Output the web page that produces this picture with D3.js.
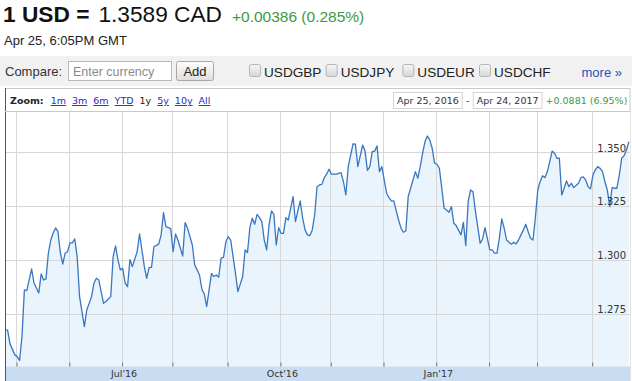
<!DOCTYPE html>
<html><head><meta charset="utf-8">
<script src="https://cdn.jsdelivr.net/npm/d3@7"></script>
<style>body{margin:0;background:#fff;overflow:hidden}svg{display:block}</style>
</head><body>
<svg id="c" width="632" height="381"></svg>
<script>
// ---------- data ----------
const dates = ["2016-04-25","2016-04-26","2016-04-27","2016-04-29","2016-05-02","2016-05-03","2016-05-04","2016-05-05","2016-05-06","2016-05-10","2016-05-11","2016-05-13","2016-05-16","2016-05-17","2016-05-18","2016-05-19","2016-05-20","2016-05-23","2016-05-24","2016-05-25","2016-05-26","2016-05-27","2016-05-30","2016-05-31","2016-06-01","2016-06-02","2016-06-03","2016-06-06","2016-06-07","2016-06-08","2016-06-09","2016-06-10","2016-06-14","2016-06-15","2016-06-16","2016-06-17","2016-06-21","2016-06-22","2016-06-24","2016-06-27","2016-06-28","2016-06-29","2016-06-30","2016-07-01","2016-07-04","2016-07-05","2016-07-06","2016-07-07","2016-07-11","2016-07-12","2016-07-13","2016-07-14","2016-07-15","2016-07-18","2016-07-19","2016-07-20","2016-07-22","2016-07-25","2016-07-26","2016-07-27","2016-07-29","2016-08-01","2016-08-02","2016-08-03","2016-08-05","2016-08-08","2016-08-09","2016-08-11","2016-08-12","2016-08-16","2016-08-17","2016-08-18","2016-08-19","2016-08-22","2016-08-23","2016-08-24","2016-08-25","2016-08-26","2016-08-29","2016-08-30","2016-08-31","2016-09-01","2016-09-02","2016-09-05","2016-09-06","2016-09-07","2016-09-09","2016-09-12","2016-09-13","2016-09-14","2016-09-15","2016-09-16","2016-09-19","2016-09-20","2016-09-21","2016-09-22","2016-09-23","2016-09-26","2016-09-27","2016-09-28","2016-09-29","2016-09-30","2016-10-03","2016-10-04","2016-10-05","2016-10-06","2016-10-07","2016-10-10","2016-10-11","2016-10-12","2016-10-13","2016-10-14","2016-10-17","2016-10-18","2016-10-19","2016-10-20","2016-10-21","2016-10-24","2016-10-25","2016-10-26","2016-10-27","2016-10-28","2016-10-31","2016-11-01","2016-11-02","2016-11-03","2016-11-07","2016-11-08","2016-11-09","2016-11-10","2016-11-14","2016-11-15","2016-11-16","2016-11-18","2016-11-21","2016-11-22","2016-11-23","2016-11-24","2016-11-25","2016-11-28","2016-11-29","2016-11-30","2016-12-02","2016-12-05","2016-12-06","2016-12-07","2016-12-08","2016-12-09","2016-12-12","2016-12-13","2016-12-14","2016-12-15","2016-12-16","2016-12-20","2016-12-21","2016-12-22","2016-12-23","2016-12-26","2016-12-27","2016-12-28","2016-12-29","2016-12-30","2017-01-02","2017-01-03","2017-01-05","2017-01-06","2017-01-09","2017-01-10","2017-01-11","2017-01-12","2017-01-16","2017-01-17","2017-01-18","2017-01-19","2017-01-20","2017-01-23","2017-01-24","2017-01-26","2017-01-27","2017-01-30","2017-01-31","2017-02-01","2017-02-02","2017-02-03","2017-02-06","2017-02-07","2017-02-08","2017-02-09","2017-02-10","2017-02-13","2017-02-14","2017-02-15","2017-02-16","2017-02-17","2017-02-20","2017-02-21","2017-02-22","2017-02-23","2017-02-24","2017-02-27","2017-02-28","2017-03-01","2017-03-02","2017-03-03","2017-03-06","2017-03-07","2017-03-08","2017-03-09","2017-03-10","2017-03-13","2017-03-14","2017-03-15","2017-03-16","2017-03-17","2017-03-20","2017-03-21","2017-03-22","2017-03-24","2017-03-27","2017-03-28","2017-03-29","2017-03-30","2017-03-31","2017-04-03","2017-04-04","2017-04-05","2017-04-06","2017-04-07","2017-04-10","2017-04-11","2017-04-12","2017-04-13","2017-04-14","2017-04-17","2017-04-18","2017-04-19","2017-04-20","2017-04-21","2017-04-24"];
const rates = [1.2678,1.2677,1.2613,1.2562,1.2554,1.2536,1.2647,1.2863,1.2860,1.2960,1.2895,1.2849,1.2937,1.2909,1.2914,1.3034,1.3094,1.3127,1.3150,1.3133,1.3034,1.2983,1.3034,1.3040,1.3081,1.3081,1.3099,1.3017,1.2832,1.2762,1.2693,1.2770,1.2832,1.2894,1.2917,1.2909,1.2801,1.2809,1.2832,1.3017,1.3067,1.3002,1.2956,1.2963,1.2894,1.2878,1.3003,1.2971,1.3040,1.3122,1.3048,1.2971,1.2917,1.2966,1.2968,1.3063,1.3075,1.3118,1.3221,1.3156,1.3147,1.3040,1.3122,1.3094,1.3020,1.3175,1.3149,1.3071,1.2979,1.2932,1.2866,1.2844,1.2786,1.2863,1.2940,1.2925,1.2932,1.2922,1.3010,1.3014,1.3087,1.3110,1.3094,1.3017,1.2940,1.2855,1.2925,1.3048,1.3036,1.3153,1.3195,1.3167,1.3213,1.3198,1.3179,1.3094,1.3048,1.3164,1.3229,1.3213,1.3071,1.3151,1.3125,1.3125,1.3198,1.3187,1.3241,1.3295,1.3179,1.3229,1.3275,1.3195,1.3141,1.3118,1.3114,1.3141,1.3210,1.3341,1.3349,1.3352,1.3383,1.3399,1.3422,1.3399,1.3399,1.3399,1.3406,1.3364,1.3303,1.3434,1.3540,1.3538,1.3434,1.3534,1.3506,1.3417,1.3434,1.3503,1.3506,1.3530,1.3411,1.3434,1.3311,1.3290,1.3275,1.3275,1.3229,1.3187,1.3149,1.3130,1.3136,1.3295,1.3334,1.3411,1.3380,1.3434,1.3496,1.3550,1.3576,1.3557,1.3519,1.3450,1.3445,1.3426,1.3241,1.3233,1.3223,1.3249,1.3172,1.3161,1.3118,1.3176,1.3068,1.3272,1.3326,1.3318,1.3229,1.3079,1.3099,1.3151,1.3102,1.3048,1.3048,1.3033,1.3033,1.3102,1.3192,1.3149,1.3094,1.3084,1.3075,1.3084,1.3076,1.3094,1.3118,1.3141,1.3167,1.3133,1.3102,1.3094,1.3195,1.3326,1.3364,1.3392,1.3383,1.3411,1.3457,1.3506,1.3496,1.3473,1.3473,1.3303,1.3334,1.3368,1.3341,1.3357,1.3337,1.3357,1.3383,1.3387,1.3372,1.3341,1.3331,1.3395,1.3419,1.3434,1.3426,1.3411,1.3364,1.3326,1.3249,1.3337,1.3334,1.3334,1.3395,1.3473,1.3485,1.3511,1.3550];
const yTicks = [1.275, 1.300, 1.325, 1.350];
const xLabelMonths = ["2016-07-01","2016-10-01","2017-01-01"];
const rangeStart = "2016-04-25", rangeEnd = "2017-04-24";
const zoomLinks = ["1m","3m","6m","YTD","1y","5y","10y","All"];
const activeZoom = "1y";
const compareSymbols = ["USDGBP","USDJPY","USDEUR","USDCHF"];
const headline = {pair:"1 USD =", rate:"1.3589 CAD", change:"+0.00386 (0.285%)", time:"Apr 25, 6:05PM GMT"};
const rangeLabels = {from:"Apr 25, 2016", to:"Apr 24, 2017", change:"+0.0881 (6.95%)"};

// ---------- setup ----------
const svg = d3.select("#c");
const parse = d3.timeParse("%Y-%m-%d");
const start = parse(rangeStart), end = parse(rangeEnd);
const isWeekday = d => d.getDay() !== 0 && d.getDay() !== 6;
const tIndex = d => d3.timeDay.range(start, d).filter(isWeekday).length;
const data = dates.map((s, i) => ({i: tIndex(parse(s)), v: rates[i]}));
const lastIdx = tIndex(end);

const GREEN = "#3d9a45";
const sans = "'Liberation Sans', Arial, sans-serif";
const verd = "'DejaVu Sans', Verdana, sans-serif";

// ---------- header ----------
const h = svg.append("text").attr("x", 3).attr("y", 22).attr("font-family", sans).attr("fill", "#111");
h.append("tspan").attr("font-weight", "bold").attr("font-size", 22.7).text(headline.pair);
h.append("tspan").attr("font-size", 22.7).attr("dx", 9).text(headline.rate);
h.append("tspan").attr("font-size", 15.5).attr("fill", GREEN).attr("dx", 10).text(headline.change);
svg.append("text").attr("x", 4).attr("y", 45).attr("font-family", sans).attr("font-size", 13)
  .attr("fill", "#222").text(headline.time);

// ---------- compare bar ----------
const defs = svg.append("defs");
const g1 = defs.append("linearGradient").attr("id", "btn").attr("x1", 0).attr("y1", 0).attr("x2", 0).attr("y2", 1);
g1.append("stop").attr("offset", 0).attr("stop-color", "#fdfdfd");
g1.append("stop").attr("offset", 1).attr("stop-color", "#dedede");
const g2 = defs.append("linearGradient").attr("id", "chk").attr("x1", 0).attr("y1", 0).attr("x2", 0).attr("y2", 1);
g2.append("stop").attr("offset", 0).attr("stop-color", "#f6f6f6");
g2.append("stop").attr("offset", 1).attr("stop-color", "#d6d6d6");

svg.append("rect").attr("x", 0).attr("y", 56).attr("width", 632).attr("height", 30).attr("fill", "#f1f1f1");
svg.append("text").attr("x", 5).attr("y", 76).attr("font-family", sans).attr("font-size", 13)
  .attr("fill", "#333").text("Compare:");
svg.append("rect").attr("x", 68.5).attr("y", 61.5).attr("width", 103).attr("height", 19)
  .attr("fill", "#fff").attr("stroke", "#b9b9b9");
svg.append("text").attr("x", 73).attr("y", 76).attr("font-family", sans).attr("font-size", 12.5)
  .attr("fill", "#8a8a8a").text("Enter currency");
svg.append("rect").attr("x", 176.5).attr("y", 61.5).attr("width", 37).attr("height", 19).attr("rx", 2)
  .attr("fill", "url(#btn)").attr("stroke", "#a8a8a8");
svg.append("text").attr("x", 195).attr("y", 76).attr("text-anchor", "middle").attr("font-family", sans)
  .attr("font-size", 13).attr("fill", "#222").text("Add");
const chkX = d3.scalePoint().domain(compareSymbols).range([249, 479]);
const cg = svg.selectAll("g.cmp").data(compareSymbols).join("g").attr("class", "cmp")
  .attr("transform", d => `translate(${chkX(d)},0)`);
cg.append("rect").attr("x", 0.5).attr("y", 64.5).attr("width", 11).attr("height", 12).attr("rx", 2)
  .attr("fill", "url(#chk)").attr("stroke", "#b5b5b5");
cg.append("text").attr("x", 15).attr("y", 76.5).attr("font-family", sans).attr("font-size", 13.6)
  .attr("fill", "#222").text(d => d);
svg.append("text").attr("x", 622).attr("y", 77).attr("text-anchor", "end").attr("font-family", sans)
  .attr("font-size", 13).attr("fill", "#2356c0").text("more \u00bb");

// ---------- chart frame ----------
const L = 5, R = 630, T = 111.5, B = 366.5, BAND = 381;
svg.append("rect").attr("x", L + 0.5).attr("y", 88.5).attr("width", R - L - 0.5).attr("height", BAND - 88)
  .attr("fill", "#fff").attr("stroke", "#c8c8c8");

// zoom bar
const zt = svg.append("text").attr("x", 10).attr("y", 104).attr("font-family", verd).attr("font-size", 9.5);
zt.append("tspan").attr("font-weight", "bold").attr("fill", "#222").text("Zoom:");
zoomLinks.forEach(z => {
  zt.append("tspan").attr("dx", z === zoomLinks[0] ? 7 : 6)
    .attr("fill", z === activeZoom ? "#222" : "#2b2bc8")
    .attr("text-decoration", z === activeZoom ? "none" : "underline").text(z);
});
// range boxes
function rangeBox(x, label) {
  const r = svg.append("rect").attr("x", x + 0.5).attr("y", 92.5).attr("height", 16)
    .attr("fill", "#fff").attr("stroke", "#d4d4d4");
  const t = svg.append("text").attr("x", x + 4).attr("y", 104).attr("font-family", verd)
    .attr("font-size", 9.5).attr("fill", "#333").text(label);
  const w = t.node().getComputedTextLength();
  r.attr("width", w + 7);
  return x + w + 8;
}
const e1 = rangeBox(393, rangeLabels.from);
svg.append("text").attr("x", e1 + 5).attr("y", 104).attr("text-anchor", "middle").attr("font-family", verd)
  .attr("font-size", 9.5).attr("fill", "#333").text("-");
const e2 = rangeBox(e1 + 10, rangeLabels.to);
svg.append("text").attr("x", e2 + 3).attr("y", 104).attr("font-family", verd).attr("font-size", 9.5)
  .attr("fill", GREEN).text(rangeLabels.change);

// ---------- scales ----------
const x = d3.scaleLinear().domain([0, lastIdx]).range([5.2, 628.9]);
const y = d3.scaleLinear().domain([1.275, 1.350]).range([314.3, 152.4]);

const months = d3.timeMonth.range(d3.timeMonth.ceil(d3.timeDay.offset(start, 1)), end);
const gridIdx = months.map(m => tIndex(m) - 0.5);

// plot background
svg.append("rect").attr("x", L + 1).attr("y", T).attr("width", R - L - 1).attr("height", B - T).attr("fill", "#fff");
// area
svg.append("path").datum(data)
  .attr("d", d3.area().x(d => x(d.i)).y0(B).y1(d => y(d.v)))
  .attr("fill", "#e9f4fd");
// grid
svg.append("g").selectAll("line").data(yTicks).join("line")
  .attr("x1", L).attr("x2", R).attr("y1", d => Math.round(y(d)) + 0.5).attr("y2", d => Math.round(y(d)) + 0.5)
  .attr("stroke", "#d7d7d7");
svg.append("g").selectAll("line").data(gridIdx).join("line")
  .attr("x1", d => Math.round(x(d)) + 0.5).attr("x2", d => Math.round(x(d)) + 0.5)
  .attr("y1", T).attr("y2", B).attr("stroke", "#d7d7d7");
// line
svg.append("path").datum(data)
  .attr("d", d3.line().x(d => x(d.i)).y(d => y(d.v)))
  .attr("fill", "none").attr("stroke", "#3a76c0").attr("stroke-width", 1.3).attr("stroke-linejoin", "round");

// y labels
const yAxis = svg.append("g").attr("transform", `translate(${626},0)`)
  .call(d3.axisLeft(y).tickValues(yTicks).tickSize(0).tickPadding(0).tickFormat(d3.format(".3f")));
yAxis.select(".domain").remove();
yAxis.selectAll("text").attr("font-family", verd).attr("font-size", 10).attr("fill", "#333").attr("dy", "-0.14em");

// x band + axis
svg.append("rect").attr("x", L + 1).attr("y", B).attr("width", R - L - 1).attr("height", BAND - B).attr("fill", "#c8dcf2");
const labelSet = new Set(xLabelMonths.map(s => tIndex(parse(s)) - 0.5));
const fmt = d3.timeFormat("%b'%y");
const xAxis = svg.append("g").attr("transform", `translate(0.5,${B})`)
  .call(d3.axisBottom(x).tickValues(gridIdx).tickSizeInner(-4).tickSizeOuter(0).tickPadding(4)
    .tickFormat((d, i) => labelSet.has(d) ? fmt(months[i]) : ""));
xAxis.select(".domain").remove();
xAxis.selectAll("line").attr("stroke", "#777");
xAxis.selectAll("text").attr("font-family", verd).attr("font-size", 9.5).attr("fill", "#333").attr("dx", 1.5);

// left border
svg.append("line").attr("x1", L + 0.5).attr("x2", L + 0.5).attr("y1", 88).attr("y2", BAND)
  .attr("stroke", "#555");
svg.append("line").attr("x1", L).attr("x2", R).attr("y1", T).attr("y2", T).attr("stroke", "#c8c8c8");
</script>
</body></html>
